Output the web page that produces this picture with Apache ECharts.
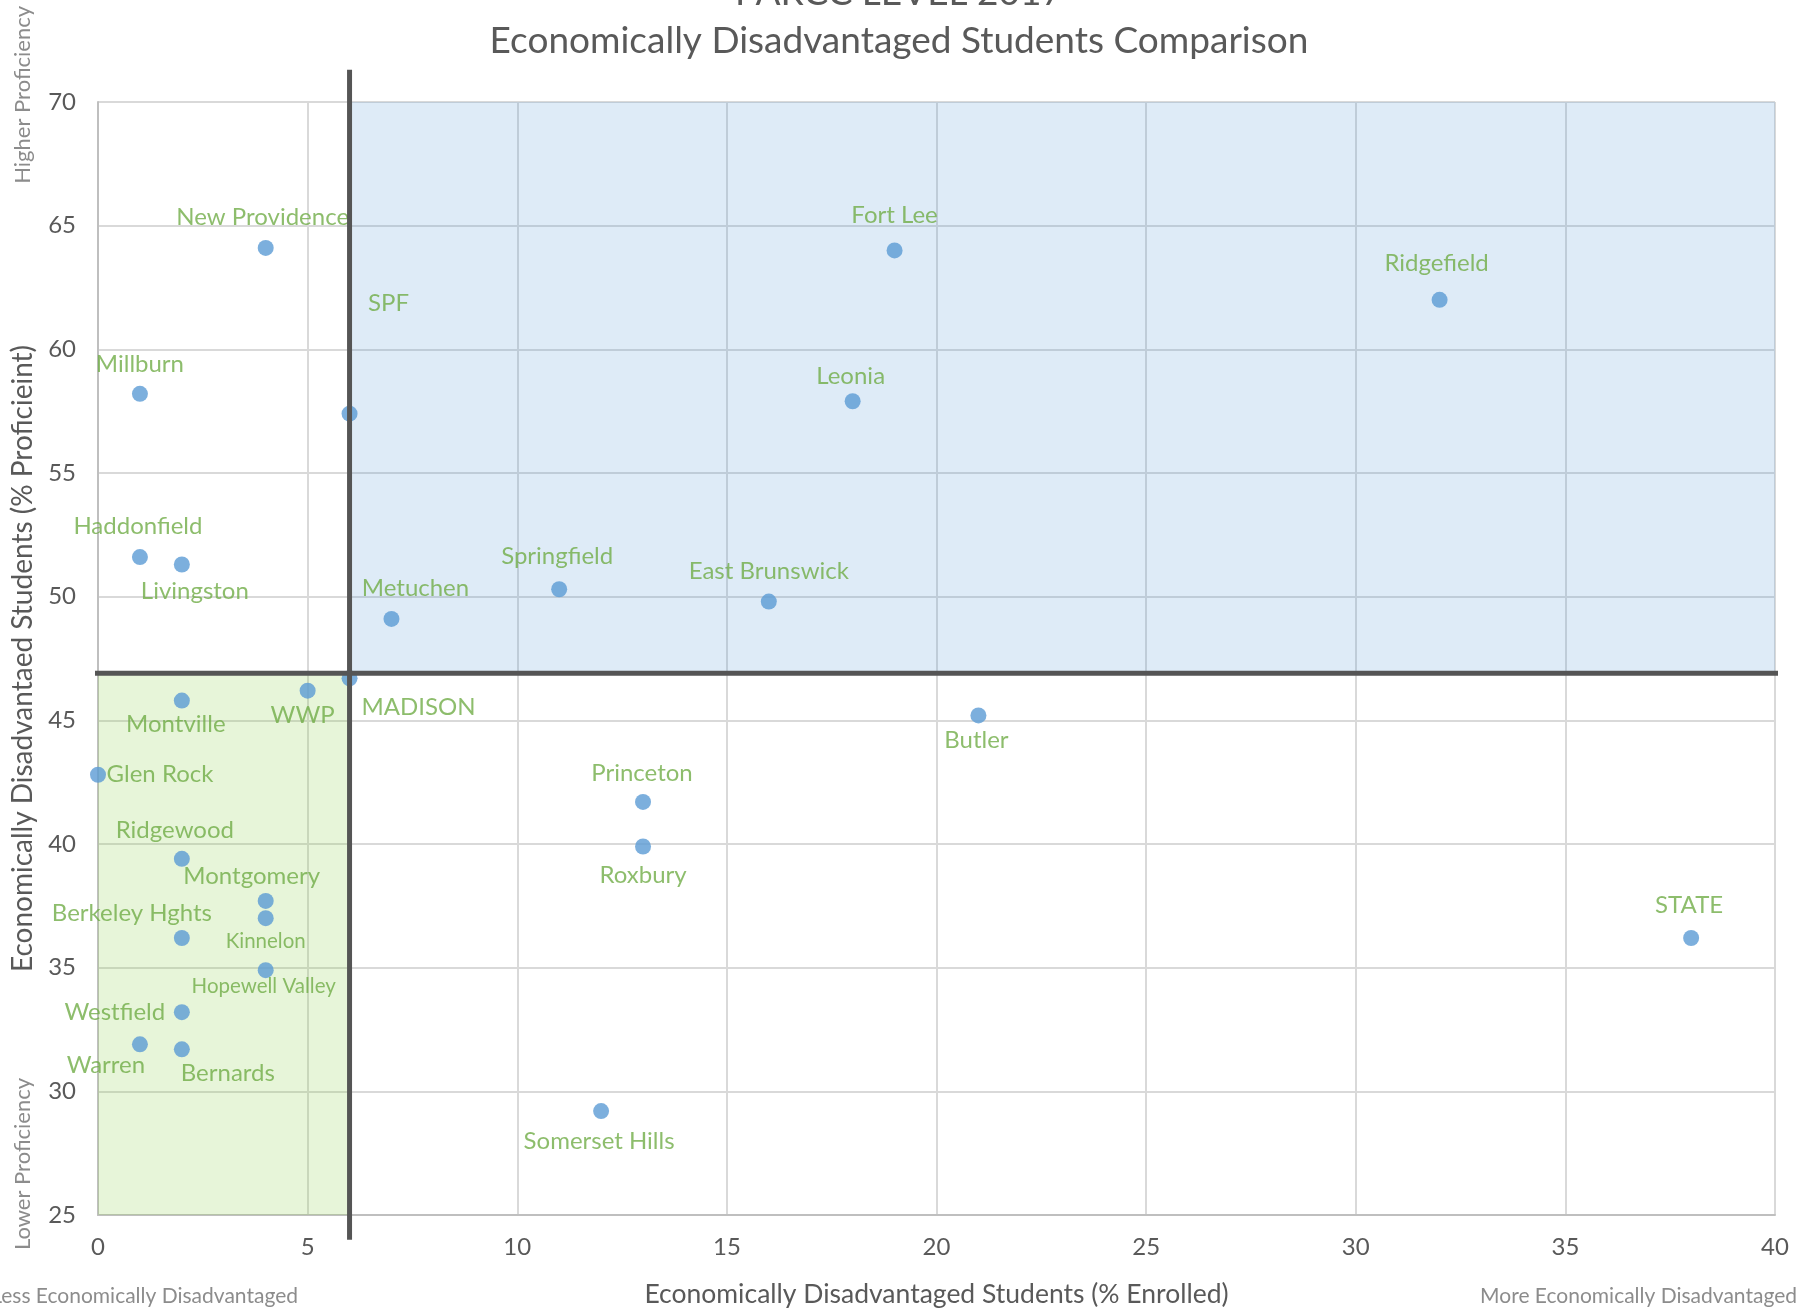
<!DOCTYPE html>
<html>
<head>
<meta charset="utf-8">
<script src="https://cdn.jsdelivr.net/npm/echarts@6/dist/echarts.min.js"></script>
<style>
  html, body { margin: 0; padding: 0; background: #ffffff; }
  #scatter-chart { width: 1812px; height: 1313px; }
</style>
</head>
<body>
<div id="scatter-chart"></div>
<script>
// districts, % enrolled that are economically disadvantaged, % of them proficient
var districts = ['New Providence', 'Fort Lee', 'Ridgefield', 'Millburn', 'SPF', 'Leonia',
    'Haddonfield', 'Livingston', 'Springfield', 'East Brunswick', 'Metuchen', 'MADISON',
    'WWP', 'Montville', 'Butler', 'Glen Rock', 'Princeton', 'Ridgewood', 'Roxbury',
    'Montgomery', 'Kinnelon', 'Berkeley Hghts', 'Hopewell Valley', 'STATE', 'Westfield',
    'Warren', 'Bernards', 'Somerset Hills'];
var enrolled = [4, 19, 32, 1, 6, 18,
    1, 2, 11, 16, 7, 6,
    5, 2, 21, 0, 13, 2, 13,
    4, 4, 2, 4, 38, 2,
    1, 2, 12];
var proficient = [64.1, 64.0, 62.0, 58.2, 57.4, 57.9,
    51.6, 51.3, 50.3, 49.8, 49.1, 46.7,
    46.2, 45.8, 45.2, 42.8, 41.7, 39.4, 39.9,
    37.7, 37.0, 36.2, 34.9, 36.2, 33.2,
    31.9, 31.7, 29.2];

// where the two threshold lines sit
var madisonX = 6;
var madisonY = 46.9;

var xTicks = [0, 5, 10, 15, 20, 25, 30, 35, 40];
var yTicks = [25, 30, 35, 40, 45, 50, 55, 60, 65, 70];

// label placement, offset of text centre from the point (px)
var labelOffsets = {
    'New Providence': [-3, -31], 'Fort Lee': [0, -35], 'Ridgefield': [-3, -37],
    'Millburn': [0, -30], 'SPF': [39, -110], 'Leonia': [-2, -25],
    'Haddonfield': [-2, -31], 'Livingston': [13, 27], 'Springfield': [-2, -33],
    'East Brunswick': [0, -30], 'Metuchen': [24, -31], 'MADISON': [69, 29],
    'WWP': [-5, 25], 'Montville': [-6, 24], 'Butler': [-2, 25],
    'Glen Rock': [62, 0], 'Princeton': [-1, -29], 'Ridgewood': [-7, -29],
    'Roxbury': [0, 29], 'Montgomery': [-14, -25], 'Kinnelon': [0, 23],
    'Berkeley Hghts': [-50, -25], 'Hopewell Valley': [-2, 16], 'STATE': [-2, -33],
    'Westfield': [-67, 0], 'Warren': [-34, 21], 'Bernards': [46, 24],
    'Somerset Hills': [-2, 30]
};
var smallLabels = ['Kinnelon', 'Hopewell Valley'];

var fontFamily = 'Lato, "Open Sans", sans-serif';

var chartDom = document.getElementById('scatter-chart');
var myChart = echarts.init(chartDom);
var option;

var points = [];
for (var i = 0; i < districts.length; i++) {
    var name = districts[i];
    points.push({
        name: name,
        value: [enrolled[i], proficient[i]],
        label: {
            fontSize: smallLabels.indexOf(name) >= 0 ? 20.5 : 24
        }
    });
}

var xMin = xTicks[0], xMax = xTicks[xTicks.length - 1];
var yMin = yTicks[0], yMax = yTicks[yTicks.length - 1];

option = {
    animation: false,
    title: {
        text: 'PARCC LEVEL 2017\nEconomically Disadvantaged Students Comparison',
        left: 894,
        top: -36,
        textAlign: 'center',
        textStyle: {
            color: '#595959',
            fontFamily: fontFamily,
            fontWeight: 'normal',
            fontSize: 37,
            lineHeight: 48
        }
    },
    grid: {
        left: 98,
        right: 37,
        top: 102,
        bottom: 96
    },
    xAxis: {
        type: 'value',
        min: xMin,
        max: xMax,
        interval: 5,
        name: 'Economically Disadvantaged Students (% Enrolled)',
        nameLocation: 'middle',
        nameGap: 66,
        nameTextStyle: { color: '#595959', fontFamily: fontFamily, fontSize: 26.5 },
        axisLine: { lineStyle: { color: '#bfbfbf', width: 2 } },
        axisTick: { show: false },
        axisLabel: { color: '#595959', fontFamily: fontFamily, fontSize: 24, margin: 20 },
        splitLine: { show: true, lineStyle: { color: '#d9d9d9', width: 2 } }
    },
    yAxis: {
        type: 'value',
        min: yMin,
        max: yMax,
        interval: 5,
        name: 'Economically Disadvantaed Students (% Proficieint)',
        nameLocation: 'middle',
        nameGap: 60,
        nameTextStyle: { color: '#595959', fontFamily: fontFamily, fontSize: 28 },
        axisLine: { show: true, lineStyle: { color: '#bfbfbf', width: 2 } },
        axisTick: { show: false },
        axisLabel: { color: '#595959', fontFamily: fontFamily, fontSize: 24, margin: 22 },
        splitLine: { show: true, lineStyle: { color: '#d9d9d9', width: 2 } }
    },
    graphic: [
        {
            type: 'text', left: 12, top: 6, rotation: Math.PI / 2,
            style: { text: 'Higher Proficiency', fill: '#8c8c8c', font: '22px ' + fontFamily }
        },
        {
            type: 'text', left: 12, top: 1078, rotation: Math.PI / 2,
            style: { text: 'Lower Proficiency', fill: '#8c8c8c', font: '22px ' + fontFamily }
        },
        {
            type: 'text', right: 1812 - 298, top: 1286,
            style: { text: 'Less Economically Disadvantaged', fill: '#8c8c8c', font: '21px ' + fontFamily }
        },
        {
            type: 'text', right: 15, top: 1286,
            style: { text: 'More Economically Disadvantaged', fill: '#8c8c8c', font: '21px ' + fontFamily }
        }
    ],
    series: [
        {
            // shaded quadrant: many disadvantaged students and still proficient
            type: 'scatter',
            z: 1,
            silent: true,
            data: [],
            markArea: {
                silent: true,
                itemStyle: { color: 'rgba(91,155,213,0.2)' },
                data: [[{ coord: [madisonX, madisonY] }, { coord: [xMax, yMax] }]]
            }
        },
        {
            name: 'Districts',
            type: 'scatter',
            z: 2,
            symbolSize: 16,
            itemStyle: { color: '#5b9bd5' },
            label: {
                show: true,
                position: 'inside',
                formatter: '{b}',
                color: '#70ad47',
                fontFamily: fontFamily,
                fontSize: 24
            },
            labelLayout: function (params) {
                var off = labelOffsets[districts[params.dataIndex]] || [0, 0];
                return { dx: off[0], dy: off[1], hideOverlap: false };
            },
            data: points
        },
        {
            // shaded quadrant: few disadvantaged students and less proficient
            type: 'scatter',
            z: 3,
            silent: true,
            data: [],
            markArea: {
                silent: true,
                itemStyle: { color: 'rgba(146,208,80,0.22)' },
                data: [[{ coord: [xMin, yMin] }, { coord: [madisonX, madisonY] }]]
            }
        },
        {
            type: 'line',
            z: 4,
            silent: true,
            clip: false,
            symbol: 'none',
            lineStyle: { color: '#555555', width: 5 },
            data: [[madisonX, yMin - 1], [madisonX, yMax + 1.3]]
        },
        {
            type: 'line',
            z: 4,
            silent: true,
            clip: false,
            symbol: 'none',
            lineStyle: { color: '#555555', width: 5 },
            data: [[xMin - 0.7, madisonY], [xMax + 0.7, madisonY]]
        }
    ]
};

option && myChart.setOption(option);
</script>
</body>
</html>
